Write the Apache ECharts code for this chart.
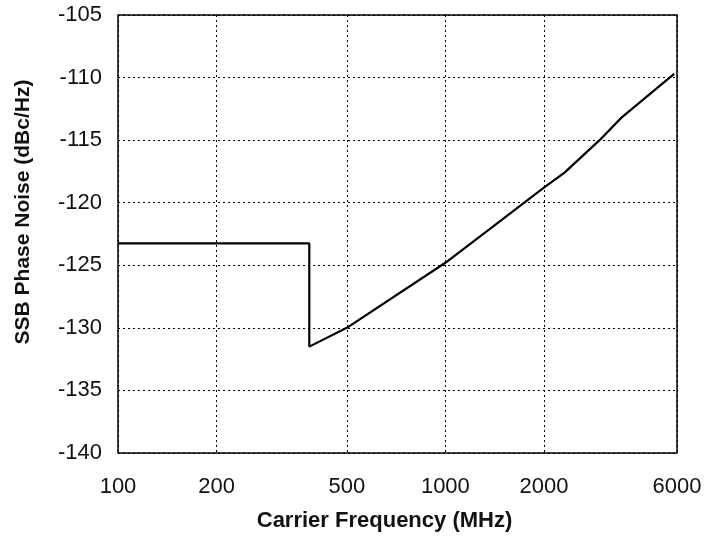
<!DOCTYPE html>
<html>
<head>
<meta charset="utf-8">
<style>html,body{margin:0;padding:0;background:#fff}#c{width:714px;height:541px}</style>
<script src="https://cdn.jsdelivr.net/npm/echarts@6/dist/echarts.min.js"></script>
</head>
<body>
<div id="c"></div>
<script>
// Data
const freqMHz = [100, 384, 384, 500, 1000, 1483, 2000, 2312, 2958, 3451, 4355, 5000];
const phaseNoise = [-123.25, -123.25, -131.5, -130, -124.8, -121.4, -118.8, -117.6, -115, -113.2, -111, -109.7];
// x tick positions (right edge of the plot is labelled 6000 in the reference)
const xTickValues = [100, 200, 500, 1000, 2000, 5100];
const xTickLabels = ['100', '200', '500', '1000', '2000', '6000'];
const yTicks = [-140, -135, -130, -125, -120, -115, -110, -105];

const chart = echarts.init(document.getElementById('c'));
const font = 'Liberation Sans, Arial, sans-serif';
chart.setOption({
  animation: false,
  grid: { left: 118, top: 15, right: 37, bottom: 88, show: true, borderColor: '#000', borderWidth: 1.5, backgroundColor: 'transparent' },
  xAxis: {
    type: 'log', logBase: 10, min: 100, max: 5100,
    name: 'Carrier Frequency (MHz)', nameLocation: 'middle', nameGap: 57,
    nameTextStyle: { fontFamily: font, fontWeight: 'bold', fontSize: 22, color: '#111', padding: [0, 26, 0, 0] },
    axisLine: { show: false },
    axisTick: { show: false, customValues: xTickValues },
    splitLine: { show: true, lineStyle: { color: '#000', type: [2, 3], width: 1 } },
    axisLabel: {
      customValues: xTickValues, margin: 23, fontFamily: font, fontSize: 22, color: '#111',
      formatter: v => { const i = xTickValues.indexOf(v); return i >= 0 ? xTickLabels[i] : ''; }
    }
  },
  yAxis: {
    type: 'value', min: yTicks[0], max: yTicks[yTicks.length - 1], interval: 5,
    name: 'SSB Phase Noise (dBc/Hz)', nameLocation: 'middle', nameGap: 84,
    nameTextStyle: { fontFamily: font, fontWeight: 'bold', fontSize: 21, color: '#111', padding: [0, 0, 0, 44] },
    axisLine: { show: false }, axisTick: { show: false },
    splitLine: { show: true, lineStyle: { color: '#000', type: [2, 3], width: 1 } },
    axisLabel: { margin: 16, fontFamily: font, fontSize: 22, color: '#111' }
  },
  series: [{
    type: 'line', data: freqMHz.map((f, i) => [f, phaseNoise[i]]),
    showSymbol: false, lineStyle: { color: '#000', width: 2.2 }, z: 5
  }]
});
</script>
</body>
</html>
